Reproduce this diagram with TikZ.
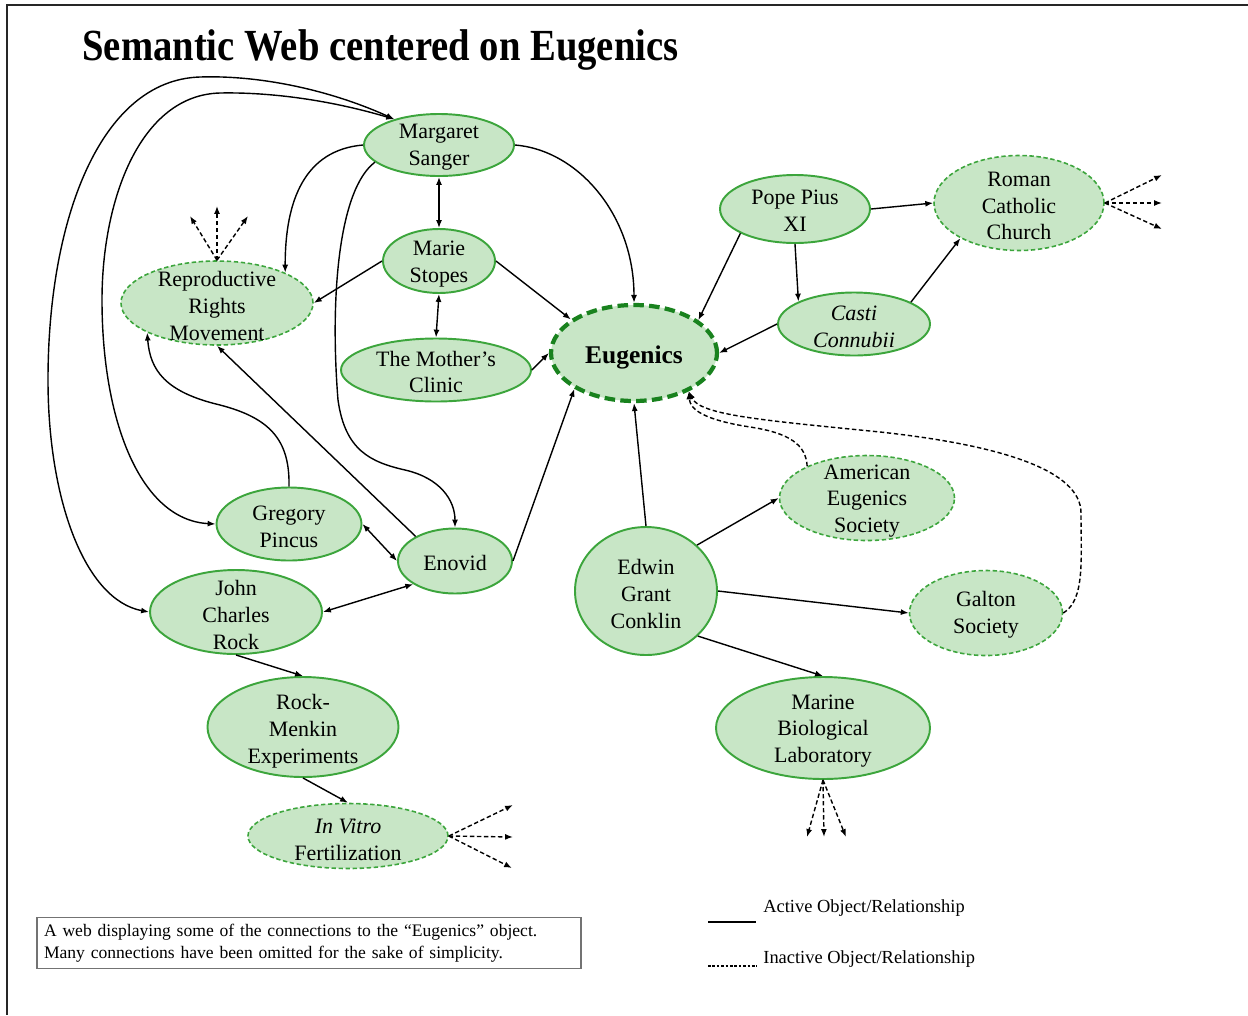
\documentclass[tikz,border=0pt]{standalone}
\usepackage{fontspec}
\usepackage{graphicx}
\setmainfont{Liberation Serif}
\usetikzlibrary{shapes.geometric,arrows.meta}
\definecolor{nfill}{RGB}{200,230,198}
\definecolor{nline}{RGB}{60,165,60}
\definecolor{eline}{RGB}{25,130,30}
\begin{document}
\begin{tikzpicture}[x=0.02cm,y=-0.02cm,
  >={Latex[length=4.5pt,width=3.4pt]},
  sz/.style 2 args={minimum width=#1*0.02cm, minimum height=#2*0.02cm},
  ell/.style={ellipse, draw=nline, fill=nfill, line width=1.1pt, inner sep=0pt},
  dell/.style={ell, line width=0.9pt, dash pattern=on 2.5pt off 1.5pt},
  txt/.style={align=center, font=\fontsize{12.5}{15.3}\selectfont, inner sep=0pt},
  link/.style={line width=0.8pt},
  dlink/.style={line width=0.8pt, dash pattern=on 2.5pt off 1.5pt},
]
\useasboundingbox (0,0) rectangle (1248,1015);
% frame
\coordinate (ftl) at (7,5);
\coordinate (ftr) at (1248,5);
\coordinate (fbl) at (7,1015);
\draw[line width=1.4pt, black!85] (ftr) -- (ftl) -- (fbl);
% title
\node[anchor=base west, inner sep=0pt, font=\bfseries\fontsize{22}{26}\selectfont] (title) at (82,60) {\scalebox{1}[1.15]{Semantic Web centered on Eugenics}};

% ellipses
\node[ell, sz={150}{62}] (ms) at (439,145) {};
\node[ell, sz={112}{64}] (mst) at (439,261) {};
\node[ell, sz={190}{63}] (mc) at (436,370) {};
\node[dell, sz={192}{84}] (rrm) at (217,303) {};
\node[ellipse, draw=eline, fill=nfill, line width=2.4pt, dash pattern=on 6pt off 3pt, inner sep=0pt, sz={166}{96}] (eu) at (634,353) {};
\node[ell, sz={150}{68}] (pp) at (795,209) {};
\node[dell, sz={170}{95}] (rcc) at (1019,203) {};
\node[ell, sz={152}{63}] (cc) at (854,324) {};
\node[dell, sz={175}{85}] (aes) at (867,498) {};
\node[dell, sz={153}{85}] (gs) at (986,613) {};
\node[ell, sz={142}{128}] (egc) at (646,591) {};
\node[ell, sz={214}{102}] (mbl) at (823,728) {};
\node[ell, sz={145}{73}] (gp) at (289,524) {};
\node[ell, sz={114}{65}] (en) at (455,561) {};
\node[ell, sz={172}{84}] (jcr) at (236,612) {};
\node[ell, sz={191}{100}] (rme) at (303,727) {};
\node[dell, sz={200}{65}] (ivf) at (348,836) {};

% texts
\node[txt] (tms) at (439,147) {Margaret\\Sanger};
\node[txt] (tmst) at (439,264) {Marie\\Stopes};
\node[txt] (tmc) at (436,372) {The Mother’s\\Clinic};
\node[txt] (trrm) at (217,306) {Reproductive\\Rights\\Movement};
\node[txt, font=\bfseries\fontsize{14.5}{17}\selectfont] (teu) at (634,357) {Eugenics};
\node[txt] (tpp) at (795,211) {Pope Pius\\XI};
\node[txt] (trcc) at (1019,206) {Roman\\Catholic\\Church};
\node[txt, font=\itshape\fontsize{12.5}{15.3}\selectfont] (tcc) at (854,327) {Casti\\Connubii};
\node[txt] (taes) at (867,501) {American\\Eugenics\\Society};
\node[txt] (tgs) at (986,615) {Galton\\Society};
\node[txt] (tegc) at (646,594) {Edwin\\Grant\\Conklin};
\node[txt] (tmbl) at (823,731) {Marine\\Biological\\Laboratory};
\node[txt] (tgp) at (289,527) {Gregory\\Pincus};
\node[txt] (ten) at (455,563) {Enovid};
\node[txt] (tjcr) at (236,615) {John\\Charles\\Rock};
\node[txt] (trme) at (303,731) {Rock-\\Menkin\\Experiments};
\node[txt] (tivf) at (348,840) {\textit{In Vitro}\\Fertilization};

% connectors
\draw[link,<->] (ms.south) -- (mst.north);
\draw[link,<->] (mst.south) -- (mc.north);
\draw[link,->] (mst.west) -- (rrm.east);
\draw[link,->] (mst.east) -- (eu.152);
\draw[link,->] (ms.east) .. controls (578,150) and (634,215) .. (eu.north);
\draw[link,->] (mc.east) -- (eu.west);
\draw[link,->] (en.east) -- (eu.211);
\draw[link,->] (egc.north) -- (eu.south);
\draw[link,->] (pp.204) -- (eu.27);
\draw[link,->] (pp.east) -- (rcc.west);
\draw[link,->] (pp.south) -- (cc.158);
\draw[link,->] (cc.21) -- (rcc.211);
\draw[link,->] (cc.west) -- (eu.east);
\draw[link,->] (egc.42) -- (aes.west);
\draw[link,->] (egc.east) -- (gs.west);
\draw[link,->] (egc.-41) -- (mbl.north);
\draw[link,<->] (gp.east) -- (en.west);
\draw[link,<->] (en.209) -- (jcr.east);
\draw[link,->] (en.148) -- (rrm.south);
\draw[link,->] (jcr.south) -- (rme.north);
\draw[link,->] (rme.south) -- (ivf.north);
\draw[link,->] (gp.north) .. controls (290,440) and (270,418) .. (220,405) .. controls (165,392) and (150,370) .. (rrm.203);
\draw[link,->] (ms.west) .. controls (305,150) and (285,200) .. (rrm.24);
\draw[link,->] (ms.195) .. controls (338,190) and (330,300) .. (338,400) .. controls (345,450) and (370,462) .. (405,470) .. controls (440,478) and (455,500) .. (en.north);
\draw[link,<->] (ms.150) .. controls (330,90) and (260,75) .. (200,77) .. controls (100,80) and (48,220) .. (48,380) .. controls (48,500) and (85,600) .. (jcr.west);
\draw[link,<->] (ms.150) .. controls (330,100) and (270,92) .. (220,93) .. controls (140,95) and (102,200) .. (102,300) .. controls (102,420) and (140,520) .. (gp.west);

% inactive links
\draw[dlink,->] (aes.152) .. controls (806,445) and (790,433) .. (750,427) .. controls (705,420) and (690,410) .. (eu.-35);
\draw[dlink,->] (gs.east) .. controls (1085,600) and (1081,560) .. (1081,513) .. controls (1081,470) and (1000,445) .. (880,432) .. controls (760,420) and (700,415) .. (eu.-35);

% fans
\coordinate (r1) at (1162,175);
\coordinate (r2) at (1162,203);
\coordinate (r3) at (1162,229);
\foreach \c in {r1,r2,r3} \draw[dlink,->] (rcc.east) -- (\c);
\coordinate (m1) at (807,837);
\coordinate (m2) at (824,837);
\coordinate (m3) at (846,837);
\foreach \c in {m1,m2,m3} \draw[dlink,->] (mbl.south) -- (\c);
\coordinate (u1) at (190,216);
\coordinate (u2) at (217,206);
\coordinate (u3) at (248,216);
\foreach \c in {u1,u2,u3} \draw[dlink,->] (rrm.north) -- (\c);
\coordinate (v1) at (513,805);
\coordinate (v2) at (513,837);
\coordinate (v3) at (512,868);
\foreach \c in {v1,v2,v3} \draw[dlink,->] (ivf.east) -- (\c);

% legend
\node[draw=black!55, line width=0.7pt, sz={544}{51}, text width=530*0.02cm, align=left, inner sep=0pt, font=\fontsize{10}{12.5}\selectfont] (note) at (309,943) {A web displaying some of the connections to the “Eugenics” object.\\Many connections have been omitted for the sake of simplicity.};
\coordinate (la) at (708,922);
\coordinate (lb) at (756,922);
\draw[line width=1.3pt] (la) -- (lb);
\node[anchor=west, inner sep=0pt, font=\fontsize{10.5}{12}\selectfont] (lact) at (763,908) {Active Object/Relationship};
\coordinate (lc) at (708,966);
\coordinate (ld) at (757,966);
\draw[line width=1pt, dash pattern=on 1.5pt off 1pt] (lc) -- (ld);
\node[anchor=west, inner sep=0pt, font=\fontsize{10.5}{12}\selectfont] (linact) at (763,959) {Inactive Object/Relationship};
\end{tikzpicture}
\end{document}
